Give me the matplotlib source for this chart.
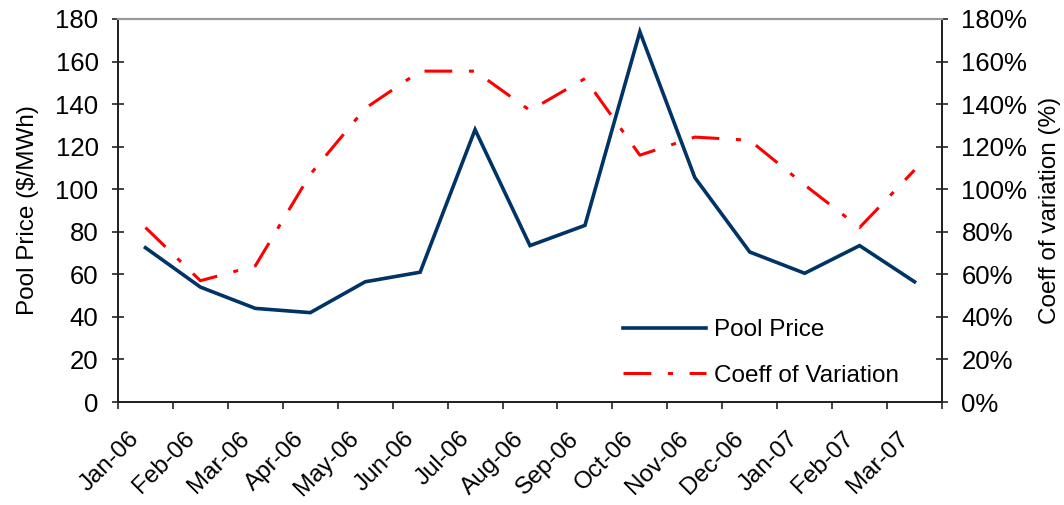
import matplotlib
matplotlib.use("Agg")
import matplotlib.pyplot as plt
from matplotlib.ticker import FixedLocator, PercentFormatter

plt.rcParams['font.family'] = ['Liberation Sans', 'DejaVu Sans']
plt.rcParams['lines.scale_dashes'] = False

months = ["Jan-06", "Feb-06", "Mar-06", "Apr-06", "May-06", "Jun-06", "Jul-06",
          "Aug-06", "Sep-06", "Oct-06", "Nov-06", "Dec-06", "Jan-07", "Feb-07", "Mar-07"]
pool_price = [72.5, 54, 44, 42, 56.5, 61, 128, 73.5, 83, 174, 105.5, 70.5, 60.5, 73.5, 56.5]
coeff_var = [82, 57, 64, 107, 138, 155.5, 155.5, 137, 152, 116, 124.5, 123, 102, 82, 109]

navy = "#003366"
red = "#ff0000"
fs = 18.5

fig = plt.figure(figsize=(10.64, 5.05), dpi=100)
ax = fig.add_axes([118 / 1064, 1 - 402 / 505, (942 - 118) / 1064, (402 - 19) / 505])
ax2 = ax.twinx()

x = list(range(len(months)))
l1, = ax.plot(x, pool_price, color=navy, lw=2.6, solid_joinstyle='miter', label="Pool Price")
l2, = ax2.plot(x, coeff_var, color=red, lw=2.2, dashes=(20, 12, 3.6, 12),
               dash_capstyle='butt', label="Coeff of Variation")

ax.set_xlim(-0.5, len(months) - 0.5)
ax.set_ylim(0, 180)
ax2.set_ylim(0, 180)
ax.set_yticks(range(0, 181, 20))
ax2.set_yticks(range(0, 181, 20))
ax2.yaxis.set_major_formatter(PercentFormatter(decimals=0))

# labels sit a little left of the category centre, as in the original
ax.set_xticks([i - 0.17 for i in x])
ax.set_xticklabels(months, rotation=45, ha='right', va='center', rotation_mode='anchor')
ax.xaxis.set_minor_locator(FixedLocator([i - 0.5 for i in range(len(months) + 1)]))
ax.tick_params(axis='x', which='major', length=0, pad=24, labelsize=17.5)
ax.tick_params(axis='x', which='minor', direction='out', length=5, width=1.2, color='#222222')
ax.tick_params(axis='y', direction='inout', length=8, width=1.2, color='#222222', pad=10, labelsize=fs)
ax2.tick_params(axis='y', direction='inout', length=8, width=1.2, color='#222222', pad=10, labelsize=fs)

for a in (ax, ax2):
    a.spines['top'].set_color('#999999')
    a.spines['top'].set_linewidth(1.5)
    for s in ('left', 'right', 'bottom'):
        a.spines[s].set_color('#222222')
        a.spines[s].set_linewidth(1.3)

ax.set_ylabel("Pool Price ($/MWh)", fontsize=17.5, labelpad=12)
ax2.set_ylabel("Coeff of variation (%)", fontsize=17.5, labelpad=8)

fig.legend([l1, l2], ["Pool Price", "Coeff of Variation"], loc='center left',
           bbox_to_anchor=(623 / 1064, 1 - 353 / 505), frameon=False, fontsize=17.5,
           handlelength=3.4, handletextpad=0.35, labelspacing=0.95,
           borderpad=0, borderaxespad=0)

fig.savefig("out.png", dpi=100)
plt.close(fig)
